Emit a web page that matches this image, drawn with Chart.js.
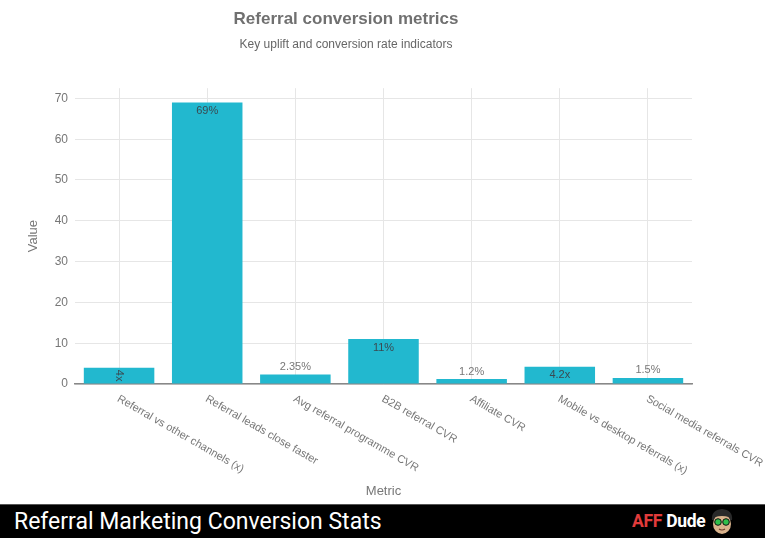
<!DOCTYPE html>
<html>
<head>
<meta charset="utf-8">
<script src="https://cdn.jsdelivr.net/npm/chart.js@4.4.1/dist/chart.umd.min.js"></script>
<style>
  html, body { margin: 0; padding: 0; background: #fff; }
  #wrap { width: 765px; height: 504px; }
  .banner {
    position: relative; width: 765px; height: 34px; background: #000;
    border-top: 1px solid #555; box-sizing: border-box;
  }
  .banner .title {
    position: absolute; left: 14px; top: 2px; color: #fff;
    font: 23px Roboto, sans-serif; line-height: 29px;
  }
  .banner .logo {
    position: absolute; left: 632px; top: 5px; font: bold 17.5px Roboto, sans-serif;
    line-height: 22px; letter-spacing: -0.3px;
  }
  .banner .logo .aff { color: #e23b3b; }
  .banner .logo .dude { color: #fff; }
  .banner svg { position: absolute; left: 707px; top: 2px; }
</style>
</head>
<body>
<div id="wrap"><canvas id="chart" width="765" height="504"></canvas></div>
<div class="banner">
  <span class="title">Referral Marketing Conversion Stats</span>
  <span class="logo"><span class="aff">AFF</span> <span class="dude">Dude</span></span>
  <svg width="30" height="30" viewBox="0 0 30 30">
    <path d="M5 13 Q4 3 15 2 Q26 3 25 13 Z" fill="#2a2a2a"/>
    <ellipse cx="15" cy="17" rx="9" ry="10" fill="#d9b38c"/>
    <path d="M6 12 Q8 5 15 6 Q22 5 24 12 L22 10 Q15 8 8 10 Z" fill="#2a2a2a"/>
    <circle cx="11" cy="15" r="3.3" fill="#2fbf4a" stroke="#111" stroke-width="1"/>
    <circle cx="19" cy="15" r="3.3" fill="#2fbf4a" stroke="#111" stroke-width="1"/>
    <path d="M12 22 Q15 24 18 22" stroke="#6b3a2a" stroke-width="1.2" fill="none"/>
  </svg>
</div>
<script>
// chart data
const categories = [
  "Referral vs other channels (x)",
  "Referral leads close faster",
  "Avg referral programme CVR",
  "B2B referral CVR",
  "Affiliate CVR",
  "Mobile vs desktop referrals (x)",
  "Social media referrals CVR"
];
const values = [4, 69, 2.35, 11, 1.2, 4.2, 1.5];
const valueLabels = ["4x", "69%", "2.35%", "11%", "1.2%", "4.2x", "1.5%"];
const yTicks = [0, 10, 20, 30, 40, 50, 60, 70];
const yMax = 72.5;

const FONT = '"Liberation Sans", Arial, sans-serif';

// bar text, rotated category labels and axis titles
const textPlugin = {
  id: "textPlugin",
  afterDatasetsDraw(chart) {
    const ctx = chart.ctx;
    const meta = chart.getDatasetMeta(0);
    meta.data.forEach((bar, i) => {
      const h = Math.abs(bar.base - bar.y);
      ctx.save();
      ctx.font = "11px " + FONT;
      ctx.textAlign = "center";
      ctx.textBaseline = "middle";
      if (h >= 16.6) {
        ctx.fillStyle = "#3a4a52";
        ctx.fillText(valueLabels[i], bar.x, bar.y + 8.5);
      } else if (h >= 15) {
        ctx.fillStyle = "#3a4a52";
        ctx.translate(bar.x, (bar.y + bar.base) / 2);
        ctx.rotate(Math.PI / 2);
        ctx.fillText(valueLabels[i], 0, 0);
      } else {
        ctx.fillStyle = "#777";
        ctx.fillText(valueLabels[i], bar.x, bar.y - 7.5);
      }
      ctx.restore();
    });
  },
  afterDraw(chart) {
    const ctx = chart.ctx;
    const x = chart.scales.x;
    const area = chart.chartArea;
    ctx.save();
    ctx.font = "11px " + FONT;
    ctx.fillStyle = "#777";
    ctx.textAlign = "left";
    ctx.textBaseline = "middle";
    categories.forEach((c, i) => {
      const px = x.getPixelForValue(i);
      ctx.save();
      ctx.translate(px - 1, area.bottom + 14);
      ctx.rotate(Math.PI / 6);
      ctx.fillText(c, 0, 0);
      ctx.restore();
    });
    ctx.font = "13px " + FONT;
    ctx.textAlign = "center";
    ctx.fillText("Metric", (area.left + area.right) / 2, 491);
    ctx.translate(33, (area.top + area.bottom) / 2);
    ctx.rotate(-Math.PI / 2);
    ctx.fillText("Value", 0, 0);
    ctx.restore();
  }
};

new Chart(document.getElementById("chart"), {
  type: "bar",
  data: {
    labels: categories,
    datasets: [{
      data: values,
      backgroundColor: "#22b8cf",
      borderWidth: 0,
      barPercentage: 0.8,
      categoryPercentage: 1.0
    }]
  },
  options: {
    responsive: false,
    animation: false,
    layout: { padding: { left: 0, right: 73, top: 0, bottom: 0 } },
    plugins: {
      legend: { display: false },
      tooltip: { enabled: false },
      title: {
        display: true,
        text: "Referral conversion metrics",
        color: "#707070",
        font: { family: FONT, size: 17, weight: "bold", lineHeight: 1.2 },
        padding: { top: 9, bottom: 4 }
      },
      subtitle: {
        display: true,
        text: "Key uplift and conversion rate indicators",
        color: "#666",
        font: { family: FONT, size: 12, weight: "normal", lineHeight: 1.2 },
        padding: { top: 3.6, bottom: 36.8 }
      }
    },
    scales: {
      x: {
        offset: true,
        ticks: { display: false },
        grid: { offset: false, color: "#e6e6e6", drawTicks: false },
        border: { display: true, color: "#888", width: 1.5 },
        afterFit(scale) { scale.height = 120; }
      },
      y: {
        min: 0,
        max: yMax,
        ticks: {
          stepSize: 10,
          padding: 7,
          color: "#777",
          font: { family: FONT, size: 12 }
        },
        afterBuildTicks(scale) {
          scale.ticks = yTicks.map(v => ({ value: v }));
        },
        grid: { color: "#e6e6e6", drawTicks: false },
        border: { display: false },
        afterFit(scale) { scale.width = 75; }
      }
    }
  },
  plugins: [textPlugin]
});
</script>
</body>
</html>
